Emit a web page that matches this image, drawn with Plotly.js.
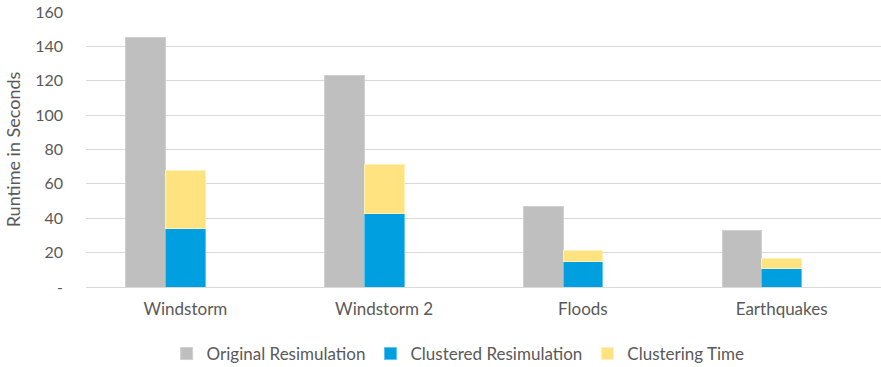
<!DOCTYPE html>
<html>
<head>
<meta charset="utf-8">
<script src="https://cdn.plot.ly/plotly-3.0.1.min.js"></script>
<style>html,body{margin:0;padding:0;background:#fff;}#chart{width:881px;height:367px;}</style>
</head>
<body>
<div id="chart"></div>
<script>
const categories = ["Windstorm", "Windstorm 2", "Floods", "Earthquakes"];
const originalResimulation = [145, 123, 47, 33];
const clusteredResimulation = [34, 43, 15, 11];
const clusteringTime = [34, 28, 6.5, 5.7];
const yTickVals = [0, 20, 40, 60, 80, 100, 120, 140, 160];
const yTickText = ["-", "20", "40", "60", "80", "100", "120", "140", "160"];

const FONT = "Lato, 'Open Sans', sans-serif";
const TXT = "#595959";

const traces = [
  {type: "bar", name: "Original Resimulation", x: categories, y: originalResimulation,
   xaxis: "x", yaxis: "y", width: 0.2, offset: -0.3,
   marker: {color: "#bfbfbf", line: {color: "#d0d0d0", width: 1}}},
  {type: "bar", name: "Clustered Resimulation", x: categories, y: clusteredResimulation,
   xaxis: "x2", yaxis: "y", width: 0.2, offset: -0.1,
   marker: {color: "#009fe0", line: {color: "#5cc4ee", width: 1}}},
  {type: "bar", name: "Clustering Time", x: categories, y: clusteringTime,
   xaxis: "x2", yaxis: "y", width: 0.2, offset: -0.1,
   marker: {color: "#ffe381", line: {color: "#fff0b8", width: 1}}}
];

const layout = {
  width: 881, height: 367,
  margin: {l: 86, r: 0, t: 12, b: 80, autoexpand: false},
  paper_bgcolor: "#fff", plot_bgcolor: "#fff",
  barmode: "stack",
  showlegend: true,
  hovermode: false,
  font: {family: FONT, color: TXT, size: 16},
  xaxis: {type: "category", range: [-0.5, 3.5], showgrid: false, zeroline: false,
          showline: false, ticks: "", ticklabelstandoff: 10,
          tickfont: {size: 17, color: TXT}},
  xaxis2: {type: "category", range: [-0.5, 3.5], overlaying: "x", visible: false},
  yaxis: {range: [0, 160], tickvals: yTickVals, ticktext: yTickText,
          showgrid: true, gridcolor: "#d9d9d9", gridwidth: 1,
          zeroline: true, zerolinecolor: "#d9d9d9", zerolinewidth: 1,
          showline: false, ticks: "", ticklabelstandoff: 22,
          tickfont: {size: 16, color: TXT},
          title: {text: "Runtime in Seconds", font: {size: 18, color: TXT}, standoff: 9}},
  legend: {orientation: "h", xref: "container", yref: "container",
           x: 0.52, xanchor: "center", y: 0.0354, yanchor: "middle",
           font: {size: 17, color: TXT}, traceorder: "normal"}
};

Plotly.newPlot("chart", traces, layout, {displayModeBar: false, staticPlot: true});
</script>
</body>
</html>
